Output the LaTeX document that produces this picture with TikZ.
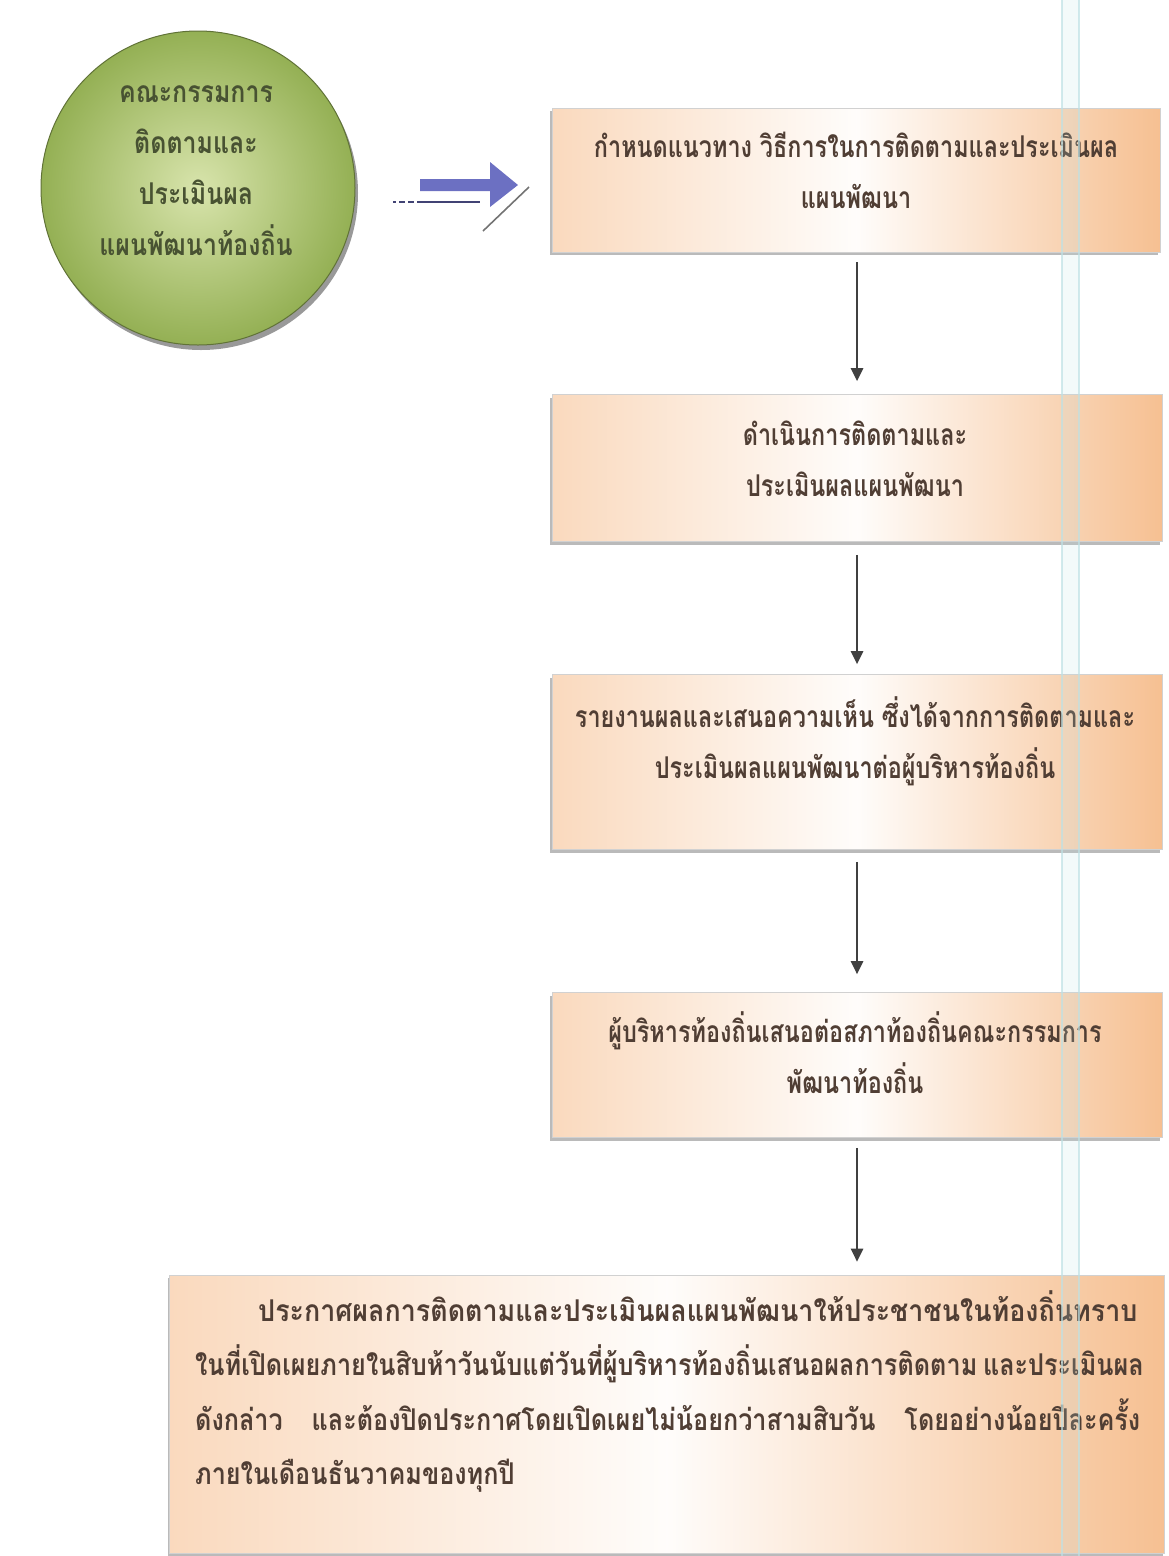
\documentclass[tikz,border=0pt]{standalone}
\usepackage{fontspec}
\newfontfamily\thai[Script=Thai,FakeStretch=0.78]{Loma}
\newfontfamily\thaiwide[Script=Thai,FakeStretch=0.84]{Loma}
\newfontfamily\thaiwider[Script=Thai,FakeStretch=0.895]{Loma}
\newfontfamily\thaicirc[Script=Thai,FakeStretch=0.83]{Loma}
\usetikzlibrary{shadows,arrows.meta}
\definecolor{peach}{RGB}{246,192,146}
\definecolor{boxtext}{RGB}{80,62,52}
\definecolor{circtext}{RGB}{72,82,50}
\definecolor{gdark}{RGB}{148,176,84}
\definecolor{glight}{RGB}{216,228,172}
\definecolor{arrowblue}{RGB}{108,112,194}
\definecolor{guide}{RGB}{190,225,228}
\tikzset{
  stepbox/.style={rectangle, draw=black!18, line width=0.6pt,
    left color=peach!60!white, right color=peach, middle color=white!96!peach,
    drop shadow={shadow xshift=-2pt, shadow yshift=-3pt, fill=black!45, opacity=0.6}},
  boxlabel/.style={font=\thai\bfseries\fontsize{30}{51}\selectfont, text=boxtext, align=center, inner sep=0pt},
  flow/.style={draw=black!75, line width=2.6pt, -{Triangle[width=12pt,length=13pt]}}
}
\begin{document}
\begin{tikzpicture}[x=1pt,y=-1pt]
\useasboundingbox (0,0) rectangle (1168,1556);
% circle
\fill[black!40] (201,193) circle[radius=157];
\node[circle, minimum size=314pt, inner sep=0pt, draw=black!35!gdark, line width=1pt,
  inner color=glight, outer color=gdark] (circ) at (198,188) {};
\node[font=\thaicirc\bfseries\fontsize{30}{51}\selectfont, text=circtext, align=center, inner sep=0pt]
  (circt) at (196,171) {คณะกรรมการ\\ติดตามและ\\ประเมินผล\\แผนพัฒนาท้องถิ่น};
% boxes
\node[stepbox, minimum width=608pt, minimum height=144pt] (b1) at (856,180) {};
\node[boxlabel] (b1t) at (856,170) {กำหนดแนวทาง วิธีการในการติดตามและประเมินผล\\แผนพัฒนา};
\node[stepbox, minimum width=610pt, minimum height=147pt] (b2) at (857,468) {};
\node[boxlabel] (b2t) at (855,459) {ดำเนินการติดตามและ\\ประเมินผลแผนพัฒนา};
\node[stepbox, minimum width=610pt, minimum height=175pt] (b3) at (857,762) {};
\node[boxlabel] (b3t) at (855,741) {รายงานผลและเสนอความเห็น ซึ่งได้จากการติดตามและ\\ประเมินผลแผนพัฒนาต่อผู้บริหารท้องถิ่น};
\node[stepbox, minimum width=610pt, minimum height=145pt] (b4) at (857,1065) {};
\node[boxlabel] (b4t) at (855,1053) {ผู้บริหารท้องถิ่นเสนอต่อสภาท้องถิ่นคณะกรรมการ\\พัฒนาท้องถิ่น};
\node[stepbox, minimum width=995pt, minimum height=278pt] (b5) at (667,1414) {};
\node[boxlabel, font=\thaiwide\bfseries\fontsize{30}{54.5}\selectfont, align=left, anchor=north west] (b5t) at (195,1290)
 {\hspace*{63pt}{\thaiwider ประกาศผลการติดตามและประเมินผลแผนพัฒนาให้ประชาชนในท้องถิ่นทราบ}\\
  \makebox[945pt][s]{ในที่เปิดเผยภายในสิบห้าวันนับแต่วันที่ผู้บริหารท้องถิ่นเสนอผลการติดตาม และประเมินผล}\\
  \makebox[945pt][s]{ดังกล่าว และต้องปิดประกาศโดยเปิดเผยไม่น้อยกว่าสามสิบวัน โดยอย่างน้อยปีละครั้ง}\\
  ภายในเดือนธันวาคมของทุกปี};
% guide band (over the boxes)
\fill[guide, opacity=0.18] (1062,0) rectangle (1079,1556);
\draw[guide, line width=1.4pt, opacity=0.7] (1062,0) -- (1062,1556);
\draw[guide, line width=1.4pt, opacity=0.7] (1079,0) -- (1079,1556);
% flow arrows
\draw[flow] ([yshift=-10pt]b1.south -| 857,0) -- ([yshift=13pt]b2.north -| 857,0);
\draw[flow] ([yshift=-13pt]b2.south -| 857,0) -- ([yshift=10pt]b3.north -| 857,0);
\draw[flow] ([yshift=-12pt]b3.south -| 857,0) -- ([yshift=18pt]b4.north -| 857,0);
\draw[flow] ([yshift=-10pt]b4.south -| 857,0) -- ([yshift=13pt]b5.north -| 857,0);
% blue entry arrow
\fill[arrowblue] (420,179) -- (490,179) -- (490,162) -- (518,185) -- (490,207) -- (490,191) -- (420,191) -- cycle;
\coordinate (da0) at (393,202);
\coordinate (da1) at (480,202);
\draw[arrowblue!60!black, line width=1.8pt] (da0) -- (da1);
\draw[white, line width=1.2pt, dash pattern=on 3pt off 6pt] (396,202) -- (420,202);
\coordinate (sl0) at (483,231);
\coordinate (sl1) at (529,187);
\draw[black!55, line width=1.6pt] (sl0) -- (sl1);
\end{tikzpicture}
\end{document}
